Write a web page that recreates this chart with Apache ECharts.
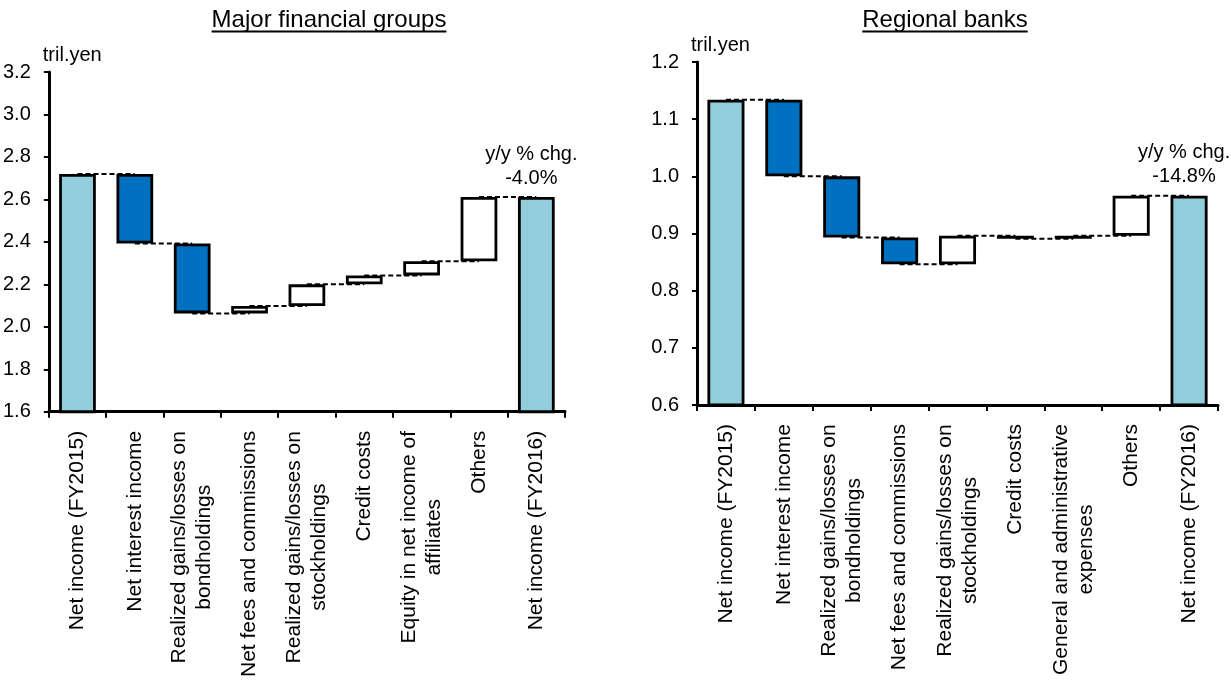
<!DOCTYPE html>
<html>
<head>
<meta charset="utf-8">
<script src="https://cdn.jsdelivr.net/npm/echarts@6/dist/echarts.min.js"></script>
<style>
html,body{margin:0;padding:0;background:#fff;}
#c{width:1231px;height:680px;}
</style>
</head>
<body>
<div id="c"></div>
<script>
// ---------- data ----------
const majorTitle = 'Major financial groups';
const majorCategories = ['Net income (FY2015)', 'Net interest income', 'Realized gains/losses on\nbondholdings',
  'Net fees and commissions', 'Realized gains/losses on\nstockholdings', 'Credit costs',
  'Equity in net income of\naffiliates', 'Others', 'Net income (FY2016)'];
const majorStart = 2.72;
const majorChanges = [-0.328, -0.329, 0.035, 0.102, 0.042, 0.067, 0.302];
const majorEnd = 2.611;
const majorPct = '-4.0%';
const majorTicks = {min: 1.6, max: 3.2, interval: 0.2};

const regionalTitle = 'Regional banks';
const regionalCategories = ['Net income (FY2015)', 'Net interest income', 'Realized gains/losses on\nbondholdings',
  'Net fees and commissions', 'Realized gains/losses on\nstockholdings', 'Credit costs',
  'General and administrative\nexpenses', 'Others', 'Net income (FY2016)'];
const regionalStart = 1.134;
const regionalChanges = [-0.134, -0.107, -0.047, 0.050, -0.005, 0.005, 0.070];
const regionalEnd = 0.966;
const regionalPct = '-14.8%';
const regionalTicks = {min: 0.6, max: 1.2, interval: 0.1};

const unitLabel = 'tril.yen';
const pctCaption = 'y/y % chg.';

// ---------- styles ----------
const FONT = '"Liberation Sans", Arial, Helvetica, sans-serif';
const LIGHT = '#92CDDC';
const BLUE = '#0070C0';
const WHITE = '#FFFFFF';

function textWidth(s, size) {
  const ctx = document.createElement('canvas').getContext('2d');
  ctx.font = size + 'px "Liberation Sans", Arial, sans-serif';
  return ctx.measureText(s).width;
}

function buildWaterfall(start, changes, end) {
  const base = [], vis = [], levels = [];
  base.push(0); vis.push({value: start, itemStyle: {color: LIGHT}});
  let cur = start;
  levels.push([0, cur]);
  changes.forEach((d, i) => {
    const next = cur + d;
    base.push(Math.min(cur, next));
    vis.push({value: Math.abs(d), itemStyle: {color: d < 0 ? BLUE : WHITE}});
    cur = next;
    levels.push([i + 1, cur]);
  });
  base.push(0); vis.push({value: end, itemStyle: {color: LIGHT}});
  return {base, vis, levels};
}

function richFor(cats) {
  const rich = {};
  cats.forEach((c, k) => {
    const lines = c.split('\n');
    if (lines.length > 1) {
      const w = Math.max(...lines.map(l => textWidth(l, 21)));
      rich['c' + k] = {width: Math.ceil(w), align: 'center', fontSize: 21, lineHeight: 25, fontFamily: FONT, color: '#000'};
    }
  });
  return rich;
}

function xAxisFor(gi, cats) {
  return {
    type: 'category', gridIndex: gi, data: cats,
    axisLine: {lineStyle: {color: '#000', width: 3}},
    axisTick: {show: true, length: 6, lineStyle: {color: '#000', width: 2}},
    axisLabel: {
      rotate: 90, margin: 19, fontSize: 21, lineHeight: 25, color: '#000', fontFamily: FONT, interval: 0,
      rich: richFor(cats),
      formatter: function (v, idx) {
        const lines = v.split('\n');
        if (lines.length === 1) return v;
        return lines.map(l => '{c' + idx + '|' + l + '}').join('\n');
      }
    }
  };
}

function yAxisFor(gi, t, margin) {
  return {
    type: 'value', gridIndex: gi, min: t.min, max: t.max, interval: t.interval,
    name: unitLabel, nameLocation: 'end', nameGap: 17,
    nameTextStyle: {align: 'left', verticalAlign: 'middle', fontSize: 20, color: '#000', fontFamily: FONT, padding: [0, 0, 0, -6]},
    splitLine: {show: false},
    axisLine: {show: true, lineStyle: {color: '#000', width: 3}},
    axisTick: {show: true, length: 5, lineStyle: {color: '#000', width: 2}},
    axisLabel: {margin: margin, fontSize: 20, color: '#000', fontFamily: FONT, formatter: v => v.toFixed(1)}
  };
}

function seriesFor(gi, wf, pct) {
  const vis = wf.vis.slice();
  const last = vis.length - 1;
  vis[last] = Object.assign({}, vis[last], {
    label: {
      show: true, position: 'top', distance: 7, offset: [-5, 0],
      formatter: pctCaption + '\n' + pct, fontSize: 20, lineHeight: 24, color: '#000', fontFamily: FONT, align: 'center'
    }
  });
  return [
    {
      type: 'custom', xAxisIndex: gi, yAxisIndex: gi, z: 1, silent: true,
      data: wf.levels,
      renderItem: function (params, api) {
        const i = api.value(0), L = api.value(1);
        const p1 = api.coord([i, L]);
        const p2 = api.coord([i + 1, L]);
        return {type: 'line', shape: {x1: p1[0], y1: p1[1], x2: p2[0], y2: p2[1]},
          style: {stroke: '#000', lineWidth: 2, lineDash: [5, 3]}};
      }
    },
    {
      type: 'bar', xAxisIndex: gi, yAxisIndex: gi, stack: 's' + gi, barWidth: '64%', z: 2, silent: true,
      itemStyle: {color: 'transparent', borderWidth: 0}, data: wf.base
    },
    {
      type: 'bar', xAxisIndex: gi, yAxisIndex: gi, stack: 's' + gi, barWidth: '64%', z: 3, silent: true,
      itemStyle: {borderColor: '#000', borderWidth: 2.8}, data: vis
    }
  ];
}

const wfMajor = buildWaterfall(majorStart, majorChanges, majorEnd);
const wfRegional = buildWaterfall(regionalStart, regionalChanges, regionalEnd);

function titleGraphic(text, cx) {
  const w = textWidth(text, 24);
  return [
    {type: 'text', left: cx - w / 2, top: 8, style: {text: text, fontSize: 24, fontFamily: FONT, fill: '#000'}},
    {type: 'line', shape: {x1: cx - w / 2, y1: 31.5, x2: cx + w / 2, y2: 31.5}, style: {stroke: '#000', lineWidth: 1.8}}
  ];
}

const chart = echarts.init(document.getElementById('c'), null, {renderer: 'canvas'});
chart.setOption({
  backgroundColor: '#fff',
  animation: false,
  graphic: titleGraphic(majorTitle, 329).concat(titleGraphic(regionalTitle, 945)),
  grid: [
    {left: 45, width: 520, top: 72, bottom: 267.5, containLabel: false},
    {left: 697, width: 521, top: 62, bottom: 275, containLabel: false}
  ],
  xAxis: [xAxisFor(0, majorCategories), xAxisFor(1, regionalCategories)],
  yAxis: [yAxisFor(0, majorTicks, 18), yAxisFor(1, regionalTicks, 18)],
  series: seriesFor(0, wfMajor, majorPct).concat(seriesFor(1, wfRegional, regionalPct))
});
</script>
</body>
</html>
